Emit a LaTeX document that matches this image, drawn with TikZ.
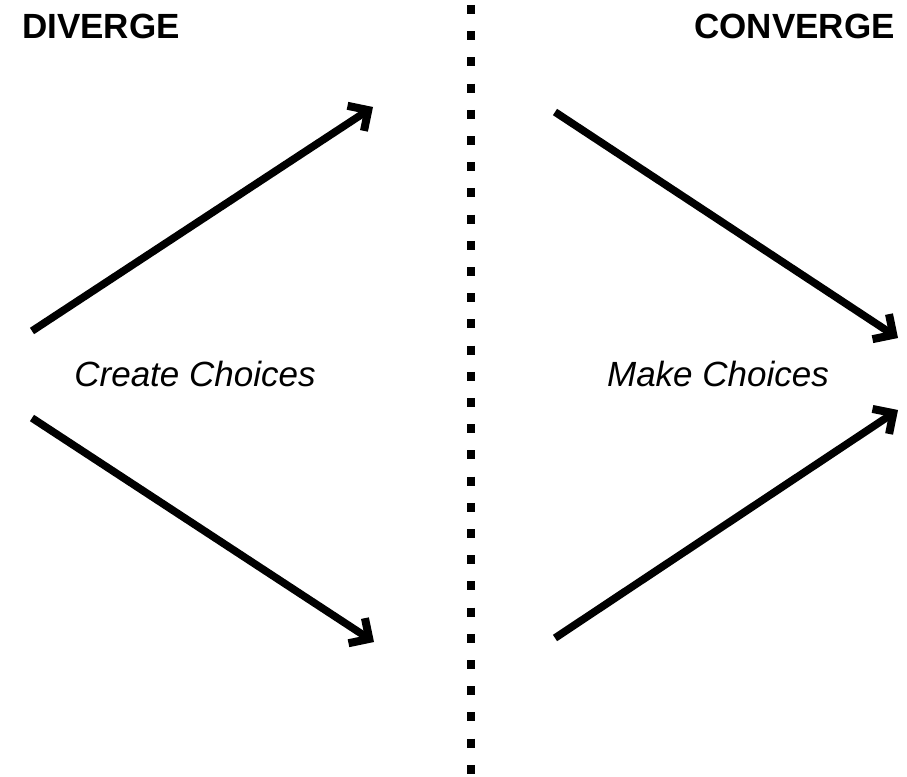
\documentclass[tikz,border=0pt]{standalone}
\usepackage{fontspec}
\setmainfont{Liberation Sans}
\usepackage{tikz}
\usetikzlibrary{arrows.meta,positioning}

\begin{document}
\begin{tikzpicture}[x=1pt,y=-1pt]
    \tikzset{heading/.style={font=\fontsize{35}{40}\selectfont\bfseries,inner sep=0pt},
             phase/.style={font=\fontsize{35}{40}\selectfont\itshape,inner sep=0pt},
             bigarrow/.style={line width=7.6pt,-{Straight Barb[length=15pt,width=30pt,line width=8pt,line join=miter]}},
             divider/.style={line width=7.3pt,dash pattern=on 9pt off 17.2pt}}
    \useasboundingbox (0,0) rectangle (907,776);
    % Nodes
    \node (diverge) [heading, anchor=base west] at (22,39) {DIVERGE};
    \node (converge) [heading, anchor=base east] at (895,39) {CONVERGE};
    \node (create) [phase, anchor=base] at (195,386) {Create Choices};
    \node (make) [phase, anchor=base] at (718,386) {Make Choices};

    \coordinate (top) at (471,5);
    \coordinate (bottom) at (471,776);
    \coordinate (div_up_start) at (32,331);
    \coordinate (div_up_end) at (373,107);
    \coordinate (div_down_start) at (32,418);
    \coordinate (div_down_end) at (374,642);
    \coordinate (con_up_start) at (555,112);
    \coordinate (con_up_end) at (898,338);
    \coordinate (con_down_start) at (555,638);
    \coordinate (con_down_end) at (898,410);

    % Divider
    \draw [divider] (top) to (bottom);

    % Arrows
    \draw [bigarrow] (div_up_start) to (div_up_end);
    \draw [bigarrow] (div_down_start) to (div_down_end);
    \draw [bigarrow] (con_up_start) to (con_up_end);
    \draw [bigarrow] (con_down_start) to (con_down_end);
\end{tikzpicture}
\end{document}
